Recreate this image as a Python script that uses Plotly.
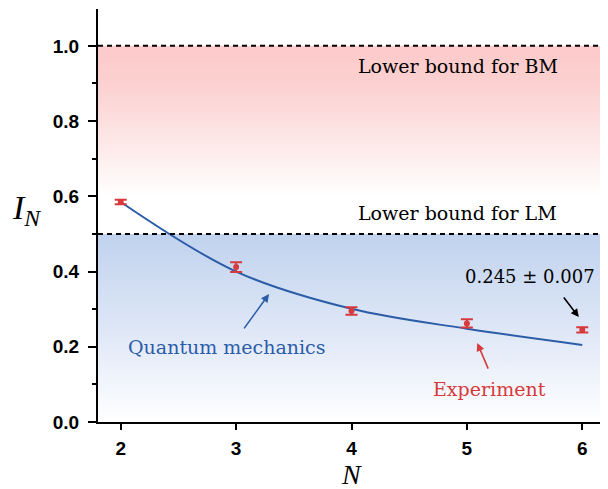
import plotly.graph_objects as go

# ---- data ----
N_vals = [2, 3, 4, 5, 6]
exp_vals = [0.585, 0.412, 0.295, 0.262, 0.245]
exp_err = [0.006, 0.013, 0.010, 0.011, 0.007]
qm_vals = [0.585, 0.400, 0.301, 0.248, 0.205]
bounds = [1.0, 0.5]
bound_labels = ["Lower bound for BM", "Lower bound for LM"]
y_ticks = [0.0, 0.2, 0.4, 0.6, 0.8, 1.0]
x_ticks = [2, 3, 4, 5, 6]

XR = [1.803, 6.223]
YR = [0.0, 1.098]

RED = "#D63A3C"
BLUE = "#2B5CA8"
SERIF = "DejaVu Serif"

fig = go.Figure()

# gradient regions
fig.add_trace(go.Scatter(
    x=[XR[0], XR[1], XR[1], XR[0]], y=[bounds[0], bounds[0], 0.6, 0.6],
    fill="toself", mode="none", hoverinfo="skip", showlegend=False,
    fillgradient=dict(type="vertical", start=0.6, stop=bounds[0],
                      colorscale=[[0, "rgb(255,255,255)"], [0.35, "rgb(253,232,232)"],
                                  [0.75, "rgb(252,208,208)"], [1, "rgb(252,202,202)"]])))
fig.add_trace(go.Scatter(
    x=[XR[0], XR[1], XR[1], XR[0]], y=[bounds[1], bounds[1], 0.0, 0.0],
    fill="toself", mode="none", hoverinfo="skip", showlegend=False,
    fillgradient=dict(type="vertical", start=0.0, stop=bounds[1],
                      colorscale=[[0, "rgb(255,255,255)"], [0.4, "rgb(228,235,248)"],
                                  [1, "rgb(192,210,238)"]])))

# bound lines
for b in bounds:
    fig.add_shape(type="line", xref="paper", x0=0, x1=1, yref="y", y0=b, y1=b,
                  line=dict(color="black", width=2, dash="5px,4px"), layer="above")

# QM curve
fig.add_trace(go.Scatter(x=N_vals, y=qm_vals, mode="lines", line=dict(color=BLUE, width=2, shape="spline"),
                         showlegend=False))
# experiment
fig.add_trace(go.Scatter(x=N_vals, y=exp_vals, mode="markers",
                         marker=dict(color=RED, size=6),
                         error_y=dict(type="data", array=exp_err, color=RED, thickness=2, width=6),
                         showlegend=False))

# texts
for b, lab, yo in zip(bounds, bound_labels, [-0.053, 0.056]):
    fig.add_annotation(x=4.92, y=b + yo, text=lab, showarrow=False,
                       font=dict(family=SERIF, size=19, color="black"))

fig.add_annotation(x=2.92, y=0.20, text="Quantum mechanics", showarrow=False,
                   font=dict(family=SERIF, size=19, color=BLUE))
fig.add_annotation(x=5.20, y=0.088, text="Experiment", showarrow=False,
                   font=dict(family=SERIF, size=19, color=RED))
fig.add_annotation(x=5.55, y=0.386, text="0.245 ± 0.007", showarrow=False,
                   font=dict(family=SERIF, size=18, color="black"))

# arrows
arrows = [((3.285, 0.340), (3.06, 0.245), BLUE),
          ((5.09, 0.210), (5.19, 0.138), RED),
          ((5.97, 0.279), (5.83, 0.335), "black")]
for (hx, hy), (tx, ty), c in arrows:
    fig.add_annotation(x=hx, y=hy, ax=tx, ay=ty, axref="x", ayref="y", text="",
                       showarrow=True, arrowhead=2, arrowsize=1, arrowwidth=1.6, arrowcolor=c)

# axis titles
fig.add_annotation(xref="paper", yref="paper", x=-0.172, y=0.513, text="<i>I</i><sub><i>N</i></sub>",
                   showarrow=False, font=dict(family="Liberation Serif", size=34, color="black"))
fig.add_annotation(xref="paper", yref="paper", x=0.498, y=-0.1622, yanchor="bottom", text="<i>N</i>",
                   height=28, borderpad=0,
                   showarrow=False, font=dict(family="Liberation Serif", size=28, color="black"))

fig.update_xaxes(range=XR, tickvals=x_ticks, ticks="outside", ticklen=6, tickwidth=2, tickcolor="black",
                 showline=True, linecolor="black", linewidth=2, showgrid=False, zeroline=False,
                 ticklabelstandoff=2,
                 tickfont=dict(family="Liberation Sans", size=19, color="black", weight="bold"))
fig.update_yaxes(range=YR, tickvals=y_ticks, tickformat=".1f", ticks="outside", ticklen=8, tickwidth=2,
                 tickcolor="black", showline=True, linecolor="black", linewidth=2, showgrid=False,
                 zeroline=False, ticklabelstandoff=5,
                 minor=dict(dtick=0.1, ticks="outside", ticklen=4, tickwidth=2, tickcolor="black"),
                 tickfont=dict(family="Liberation Sans", size=19, color="black", weight="bold"))

# page body has an 8px default margin, so the figure is 8px smaller in each direction
fig.update_layout(width=600, height=481, margin=dict(l=90, r=0, t=1, b=67, autoexpand=False),
                  plot_bgcolor="white", paper_bgcolor="white")

fig.write_html("out.html")
